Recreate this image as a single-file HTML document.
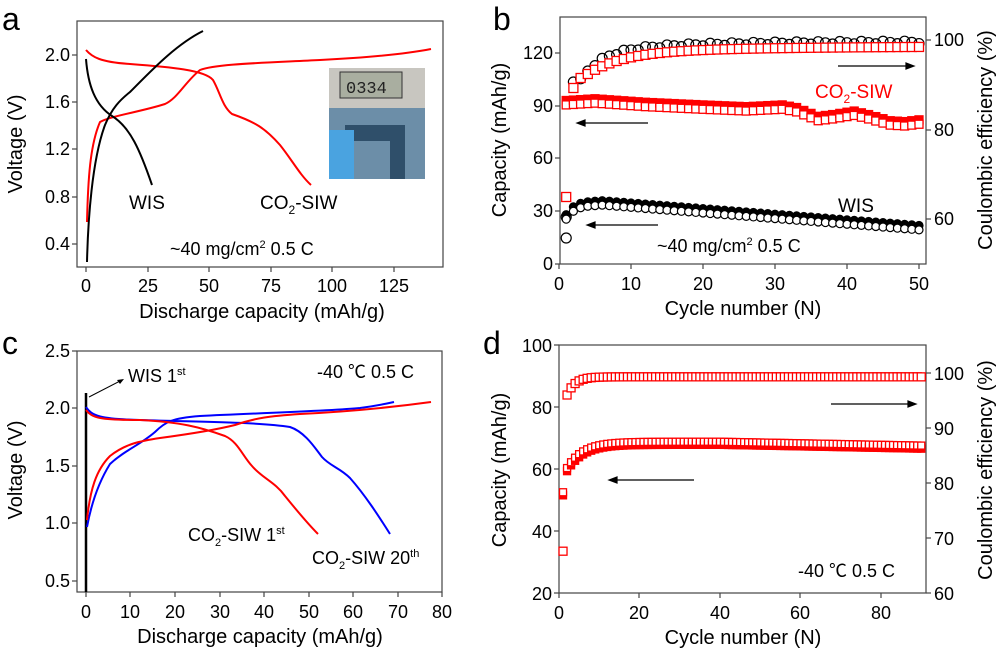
<!DOCTYPE html>
<html><head><meta charset="utf-8"><style>
html,body{margin:0;padding:0;background:#fff;}
svg{display:block;font-family:"Liberation Sans","Noto Sans CJK SC",sans-serif;}
</style></head><body>
<svg id="s" width="1000" height="652" viewBox="0 0 1000 652" xmlns="http://www.w3.org/2000/svg">
<g font-size="18" fill="#000">
<!-- Panel a -->
<text x="2" y="30" font-size="32">a</text>
<rect x="77" y="21" width="366" height="246" fill="none" stroke="#444" stroke-width="1.2"/>
<g stroke="#444" stroke-width="1.2">
<line x1="86" y1="267" x2="86" y2="272"/><line x1="148" y1="267" x2="148" y2="272"/><line x1="209" y1="267" x2="209" y2="272"/><line x1="271" y1="267" x2="271" y2="272"/><line x1="332" y1="267" x2="332" y2="272"/><line x1="394" y1="267" x2="394" y2="272"/>
<line x1="72" y1="55" x2="77" y2="55"/><line x1="72" y1="102" x2="77" y2="102"/><line x1="72" y1="149" x2="77" y2="149"/><line x1="72" y1="197" x2="77" y2="197"/><line x1="72" y1="244" x2="77" y2="244"/>
</g>
<g text-anchor="middle"><text x="86" y="292">0</text><text x="148" y="292">25</text><text x="209" y="292">50</text><text x="271" y="292">75</text><text x="332" y="292">100</text><text x="394" y="292">125</text></g>
<g text-anchor="end"><text x="70" y="61">2.0</text><text x="70" y="108">1.6</text><text x="70" y="155">1.2</text><text x="70" y="203">0.8</text><text x="70" y="250">0.4</text></g>
<text x="262" y="318" text-anchor="middle" font-size="20">Discharge capacity (mAh/g)</text>
<text transform="translate(22,144) rotate(-90)" text-anchor="middle" font-size="20">Voltage (V)</text>
<text x="129" y="209" font-size="19">WIS</text>
<text x="260" y="209" font-size="19">CO<tspan font-size="12" dy="5">2</tspan><tspan dy="-5">-SIW</tspan></text>
<text x="170" y="255" font-size="18">~40 mg/cm<tspan font-size="11" dy="-7">2</tspan><tspan dy="7">  0.5 C</tspan></text>
<g fill="none" stroke-width="2" stroke-linejoin="round">
<path stroke="#f00" d="M87,222 C88,180 90,145 100,122 C110,116 140,112 165,104 C178,98 185,82 200,70 C215,64 260,63 320,60 C360,58 400,55 431,49"/>
<path stroke="#f00" d="M86,50 C92,57 100,62 130,64 C170,67 205,70 213,80 C220,92 222,106 232,114 C255,122 265,128 280,145 C292,160 300,175 311,185"/>
<path stroke="#000" d="M87,262 C88,220 92,160 105,125 C112,108 120,100 130,92 C150,72 175,45 203,31"/>
<path stroke="#000" d="M86,59 C88,85 95,105 112,116 C130,127 140,150 152,185"/>
</g>
<rect x="329" y="68" width="96" height="111" fill="#6c8ea8"/>
<rect x="329" y="68" width="96" height="40" fill="#c8c6c0"/>
<rect x="340" y="72" width="62" height="26" fill="#a9aea0" stroke="#333"/>
<text x="346" y="93" font-size="17" font-family="Liberation Mono,monospace" fill="#222">0334</text>
<rect x="345" y="125" width="60" height="16" fill="#2f4f6a"/>
<rect x="390" y="125" width="15" height="54" fill="#2f4f6a"/>
<rect x="329" y="130" width="25" height="49" fill="#4aa3e0"/>

<!-- Panel b -->
<text x="493" y="30" font-size="32">b</text>
<rect x="560" y="17" width="366" height="247" fill="none" stroke="#444" stroke-width="1.2"/>
<g stroke="#444" stroke-width="1.2">
<line x1="559" y1="264" x2="559" y2="269"/><line x1="631" y1="264" x2="631" y2="269"/><line x1="703" y1="264" x2="703" y2="269"/><line x1="775" y1="264" x2="775" y2="269"/><line x1="847" y1="264" x2="847" y2="269"/><line x1="919" y1="264" x2="919" y2="269"/>
<line x1="555" y1="53" x2="560" y2="53"/><line x1="555" y1="106" x2="560" y2="106"/><line x1="555" y1="158" x2="560" y2="158"/><line x1="555" y1="211" x2="560" y2="211"/><line x1="555" y1="264" x2="560" y2="264"/>
<line x1="926" y1="40" x2="931" y2="40"/><line x1="926" y1="130" x2="931" y2="130"/><line x1="926" y1="219" x2="931" y2="219"/>
</g>
<g text-anchor="middle"><text x="559" y="290">0</text><text x="631" y="290">10</text><text x="703" y="290">20</text><text x="775" y="290">30</text><text x="847" y="290">40</text><text x="919" y="290">50</text></g>
<g text-anchor="end"><text x="553" y="59">120</text><text x="553" y="112">90</text><text x="553" y="164">60</text><text x="553" y="217">30</text><text x="553" y="270">0</text></g>
<g><text x="934" y="46">100</text><text x="934" y="136">80</text><text x="934" y="225">60</text></g>
<text x="743" y="315" text-anchor="middle" font-size="20">Cycle number (N)</text>
<text transform="translate(506,140) rotate(-90)" text-anchor="middle" font-size="20">Capacity (mAh/g)</text>
<text transform="translate(992,140) rotate(-90)" text-anchor="middle" font-size="20">Coulombic efficiency (%)</text>
<g id="bm"></g>
<text x="815" y="98" font-size="19" fill="#f00">CO<tspan font-size="12" dy="5">2</tspan><tspan dy="-5">-SIW</tspan></text>
<text x="838" y="212" font-size="19">WIS</text>
<text x="657" y="252" font-size="18">~40 mg/cm<tspan font-size="11" dy="-7">2</tspan><tspan dy="7">  0.5 C</tspan></text>
<g stroke="#000" stroke-width="1.2" fill="#000">
<line x1="838" y1="66" x2="908" y2="66"/><path d="M914,66 l-8,-3 v6z"/>
<line x1="582" y1="123" x2="648" y2="123"/><path d="M577,123 l8,-3 v6z"/>
<line x1="592" y1="225" x2="658" y2="225"/><path d="M587,225 l8,-3 v6z"/>
</g>

<!-- Panel c -->
<text x="2" y="354" font-size="32">c</text>
<rect x="77" y="351" width="365" height="241" fill="none" stroke="#444" stroke-width="1.2"/>
<g stroke="#444" stroke-width="1.2">
<line x1="86" y1="592" x2="86" y2="597"/><line x1="130" y1="592" x2="130" y2="597"/><line x1="175" y1="592" x2="175" y2="597"/><line x1="220" y1="592" x2="220" y2="597"/><line x1="264" y1="592" x2="264" y2="597"/><line x1="309" y1="592" x2="309" y2="597"/><line x1="353" y1="592" x2="353" y2="597"/><line x1="398" y1="592" x2="398" y2="597"/><line x1="442" y1="592" x2="442" y2="597"/>
<line x1="72" y1="351" x2="77" y2="351"/><line x1="72" y1="408" x2="77" y2="408"/><line x1="72" y1="466" x2="77" y2="466"/><line x1="72" y1="523" x2="77" y2="523"/><line x1="72" y1="581" x2="77" y2="581"/>
</g>
<g text-anchor="middle"><text x="86" y="618">0</text><text x="130" y="618">10</text><text x="175" y="618">20</text><text x="220" y="618">30</text><text x="264" y="618">40</text><text x="309" y="618">50</text><text x="353" y="618">60</text><text x="398" y="618">70</text><text x="442" y="618">80</text></g>
<g text-anchor="end"><text x="70" y="357">2.5</text><text x="70" y="414">2.0</text><text x="70" y="472">1.5</text><text x="70" y="529">1.0</text><text x="70" y="587">0.5</text></g>
<text x="260" y="643" text-anchor="middle" font-size="20">Discharge capacity (mAh/g)</text>
<text transform="translate(22,470) rotate(-90)" text-anchor="middle" font-size="20">Voltage (V)</text>
<text x="128" y="382" font-size="18">WIS 1<tspan font-size="11" dy="-7">st</tspan></text>
<text x="317" y="378" font-size="18">-40 ℃ 0.5 C</text>
<text x="188" y="541" font-size="18">CO<tspan font-size="11" dy="5">2</tspan><tspan dy="-5">-SIW 1</tspan><tspan font-size="11" dy="-7">st</tspan></text>
<text x="312" y="564" font-size="18">CO<tspan font-size="11" dy="5">2</tspan><tspan dy="-5">-SIW 20</tspan><tspan font-size="11" dy="-7">th</tspan></text>
<line x1="89" y1="397" x2="120" y2="381" stroke="#000" stroke-width="1"/><path d="M124,379 l-7,1 l3,4z"/>
<g fill="none" stroke-width="2" stroke-linejoin="round">
<line x1="86" y1="393" x2="86" y2="592" stroke="#000" stroke-width="2.5"/>
<path stroke="#00f" d="M86,407 C92,416 100,419 140,420 C200,422 260,422 290,427 C305,432 315,448 322,457 C330,466 340,468 350,478 C365,495 378,515 390,534"/>
<path stroke="#00f" d="M87,527 C92,500 100,480 110,464 C125,450 140,445 155,432 C165,422 172,418 200,416 C260,413 330,411 360,408 C375,406 385,404 394,402"/>
<path stroke="#f00" d="M86,410 C92,418 100,420 140,420 C180,422 200,427 225,436 C238,442 242,455 252,466 C262,478 275,482 285,496 C298,512 308,524 318,534"/>
<path stroke="#f00" d="M87,520 C90,490 96,470 110,456 C125,444 140,441 160,438 C190,434 215,430 235,425 C255,418 270,416 300,414 C340,412 380,409 431,402"/>
</g>

<!-- Panel d -->
<text x="483" y="354" font-size="32">d</text>
<rect x="559" y="345" width="367" height="248" fill="none" stroke="#444" stroke-width="1.2"/>
<g stroke="#444" stroke-width="1.2">
<line x1="559" y1="593" x2="559" y2="598"/><line x1="639" y1="593" x2="639" y2="598"/><line x1="720" y1="593" x2="720" y2="598"/><line x1="800" y1="593" x2="800" y2="598"/><line x1="881" y1="593" x2="881" y2="598"/>
<line x1="554" y1="345" x2="559" y2="345"/><line x1="554" y1="407" x2="559" y2="407"/><line x1="554" y1="469" x2="559" y2="469"/><line x1="554" y1="531" x2="559" y2="531"/><line x1="554" y1="593" x2="559" y2="593"/>
<line x1="926" y1="373" x2="931" y2="373"/><line x1="926" y1="428" x2="931" y2="428"/><line x1="926" y1="483" x2="931" y2="483"/><line x1="926" y1="538" x2="931" y2="538"/><line x1="926" y1="593" x2="931" y2="593"/>
</g>
<g text-anchor="middle"><text x="559" y="619">0</text><text x="639" y="619">20</text><text x="720" y="619">40</text><text x="800" y="619">60</text><text x="881" y="619">80</text></g>
<g text-anchor="end"><text x="552" y="352">100</text><text x="552" y="414">80</text><text x="552" y="476">60</text><text x="552" y="538">40</text><text x="552" y="600">20</text></g>
<g><text x="934" y="380">100</text><text x="934" y="435">90</text><text x="934" y="490">80</text><text x="934" y="545">70</text><text x="934" y="600">60</text></g>
<text x="743" y="644" text-anchor="middle" font-size="20">Cycle number (N)</text>
<text transform="translate(506,470) rotate(-90)" text-anchor="middle" font-size="20">Capacity (mAh/g)</text>
<text transform="translate(992,470) rotate(-90)" text-anchor="middle" font-size="20">Coulombic efficiency (%)</text>
<text x="798" y="577" font-size="18">-40 ℃ 0.5 C</text>
<g id="dm"></g>
<g stroke="#000" stroke-width="1.2" fill="#000">
<line x1="831" y1="404" x2="910" y2="404"/><path d="M916,404 l-8,-3 v6z"/>
<line x1="615" y1="480" x2="694" y2="480"/><path d="M609,480 l8,-3 v6z"/>
</g>
</g>
</svg>
<script>
(function(){
var NS="http://www.w3.org/2000/svg";
function el(p,t,a){var e=document.createElementNS(NS,t);for(var k in a)e.setAttribute(k,a[k]);p.appendChild(e);}
var bm=document.getElementById("bm"),dm=document.getElementById("dm");
function sq(p,x,y,s,fill,stroke){el(p,"rect",{x:x-s/2,y:y-s/2,width:s,height:s,fill:fill,stroke:stroke,"stroke-width":1.3});}
function ci(p,x,y,r,fill){el(p,"circle",{cx:x,cy:y,r:r,fill:fill,stroke:"#000","stroke-width":1.2});}
function interp(tab,n){for(var i=0;i < tab.length-1;i++){if(n <= tab[i+1][0]){var a=tab[i],b=tab[i+1];return a[1]+(b[1]-a[1])*(n-a[0])/(b[0]-a[0]);}}return tab[tab.length-1][1];}
function bx(n){return 559+7.2*n;}
function by(v){return 264-1.758*v;}
var ctab=[[1,92],[5,93],[12,91],[20,89.5],[26,88.5],[31,89.5],[33,88],[36,83],[38,84],[41,86],[43,84],[46,80.5],[48,80],[50,81]];
ci(bm,bx(1),238,5,"none");ci(bm,bx(1),217,5,"none");
sq(bm,bx(1),197,9,"#fff","#f00");
for(var n=2;n <= 50;n++){
 var yb=n==2?82:(42+30*Math.exp(-(n-3)/3)+8*Math.exp(-(n-3)/15))+(n%3-1)*1.2;
 ci(bm,bx(n),yb,5,"none");
}
for(var n=2;n <= 50;n++){
 var yr=n==2?88:(n==3?78:46+22*Math.exp(-(n-4)/5)+6*Math.exp(-(n-4)/25));
 sq(bm,bx(n),yr,9,"#fff","#f00");
}
for(var n=1;n <= 50;n++){
 var w=n==1?27:(n < 6?27+8*(1-Math.exp(-(n-1)/1.2)):35-(n-6)*0.32);
 ci(bm,bx(n),by(w+1),4,"#000");
 ci(bm,bx(n),by(w-1.5),4,"#fff");
 var c=interp(ctab,n);
 sq(bm,bx(n),by(c+1),8,"#f00","#f00");
 sq(bm,bx(n),by(c-1.5),8,"#fff","#f00");
}
function dx(n){return 559+4.025*n;}
function dyl(v){return 593-3.1*(v-20);}
function dyr(v){return 593-5.5*(v-60);}
sq(dm,dx(1),dyl(51.5),7,"#f00","#f00");sq(dm,dx(1),dyl(52.5),7,"#fff","#f00");
for(var n=2;n <= 90;n++){
 var c=68.5-8.5*Math.exp(-(n-2)/4)-(n > 40?(n-40)*0.025:0);
 sq(dm,dx(n),dyl(c-0.7),7,"#f00","#f00");
 sq(dm,dx(n),dyl(c+0.3),7,"#fff","#f00");
}
sq(dm,dx(1),dyr(67.6),8,"#fff","#f00");
for(var n=2;n <= 90;n++){
 var e=99.3-3.3*Math.exp(-(n-2)/2);
 sq(dm,dx(n),dyr(e),8,"#fff","#f00");
}
})();
</script>
</body></html>
